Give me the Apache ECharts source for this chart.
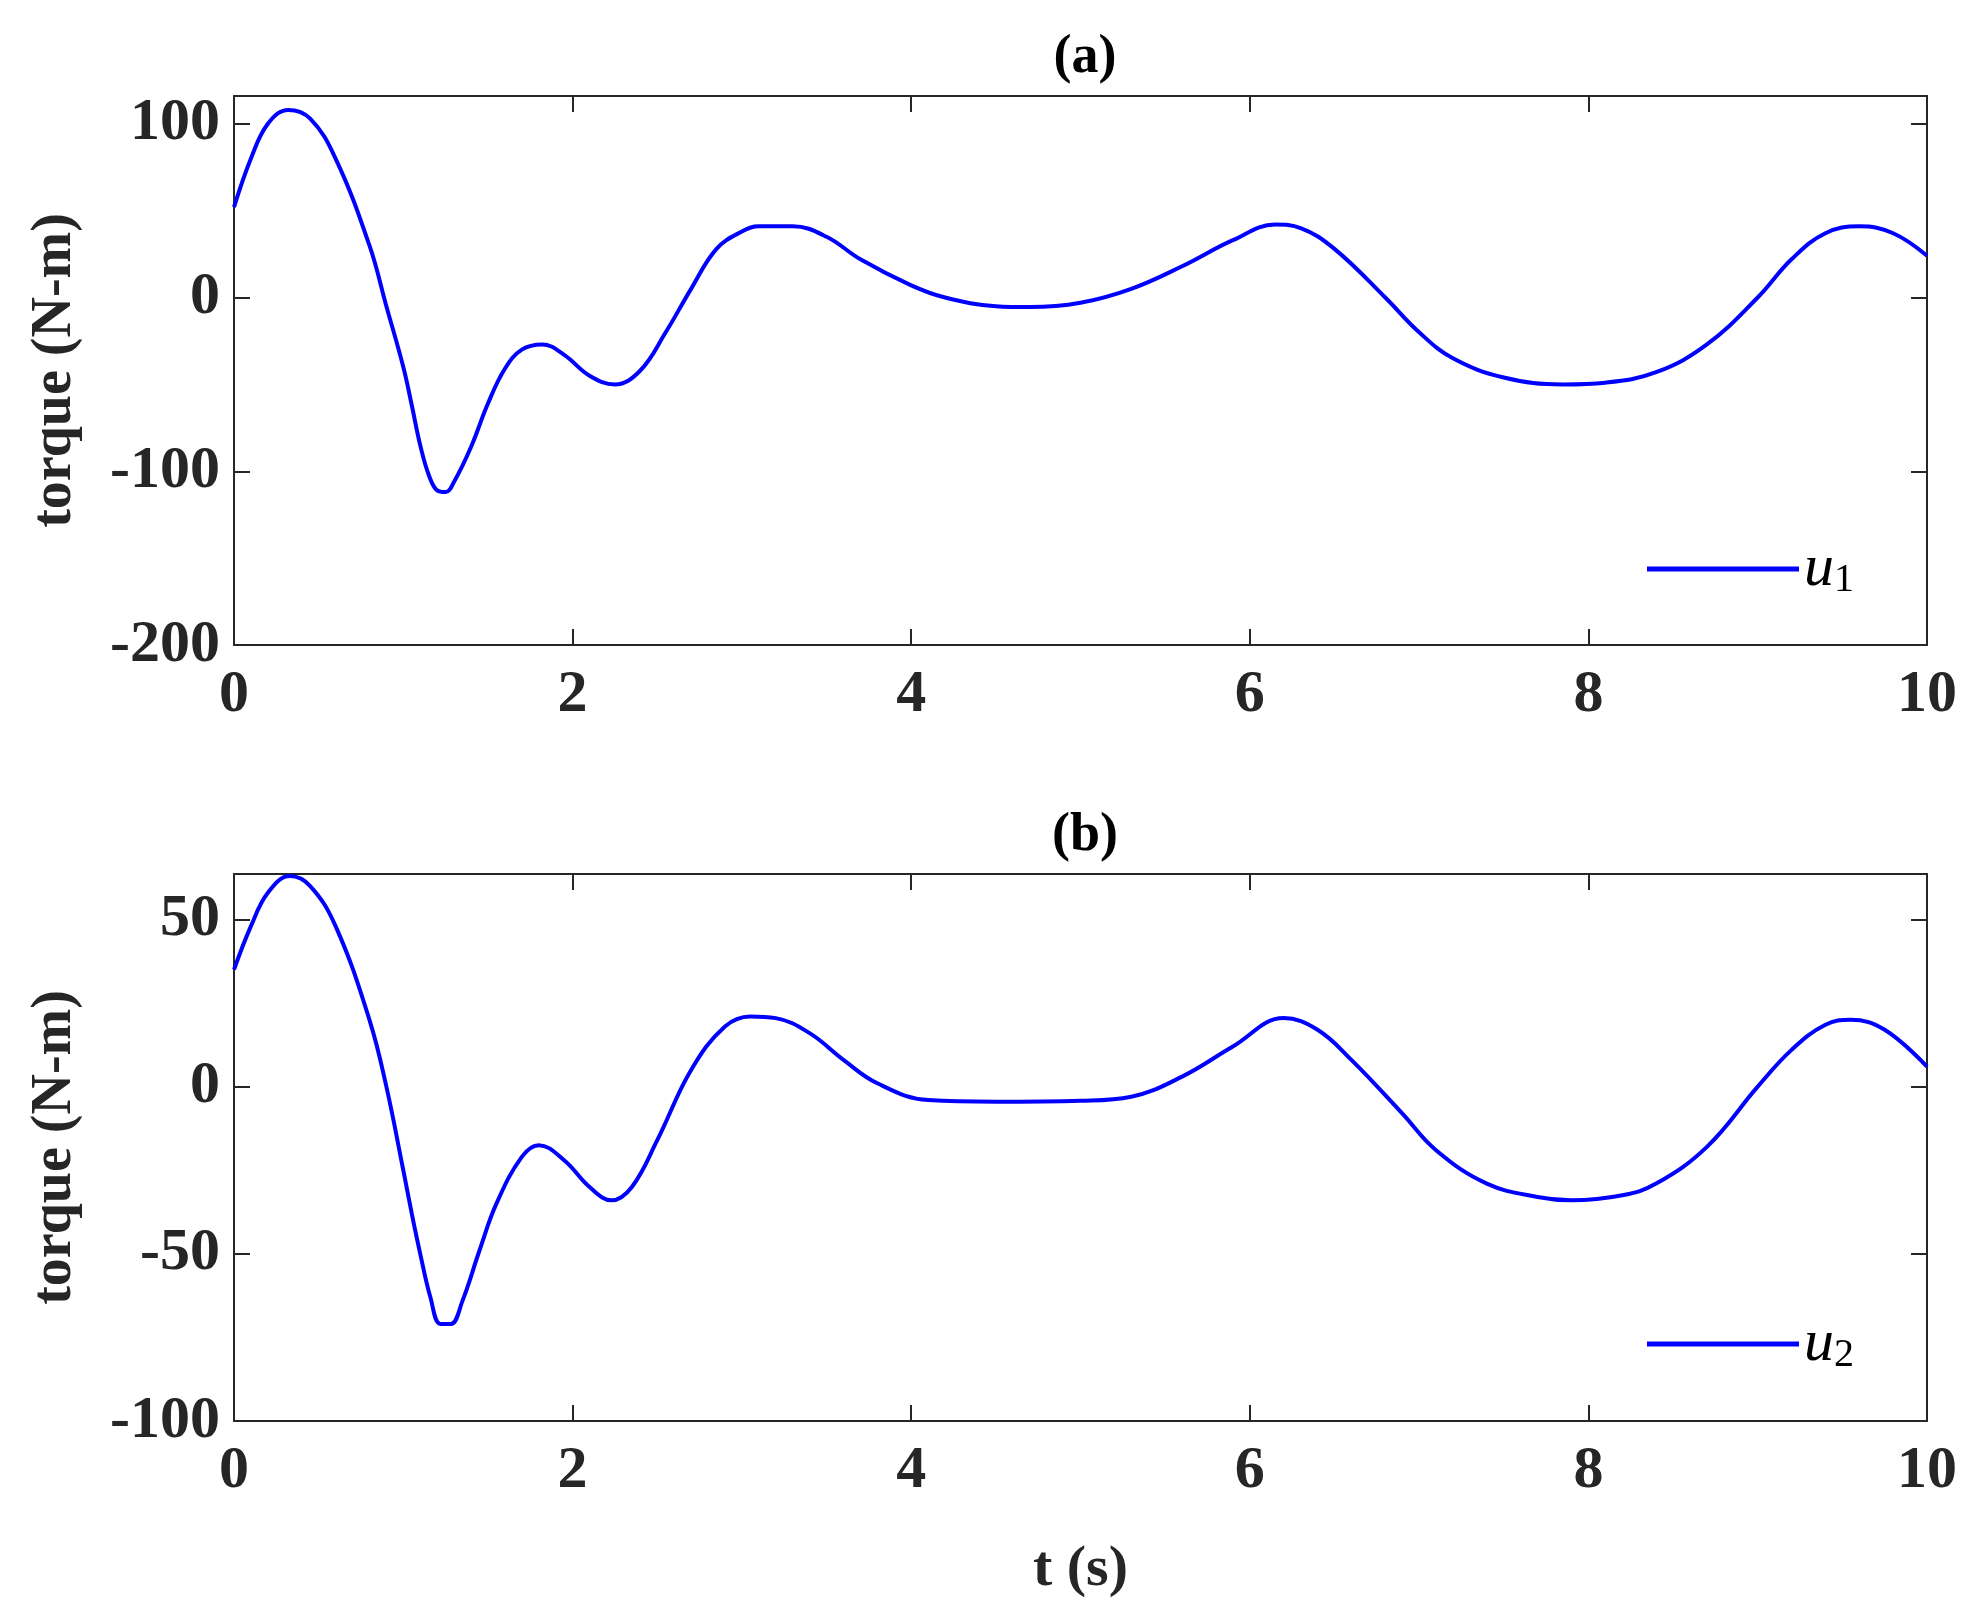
<!DOCTYPE html>
<html>
<head>
<meta charset="utf-8">
<script src="https://cdn.jsdelivr.net/npm/echarts@6/dist/echarts.min.js"></script>
<style>html,body{margin:0;padding:0;background:#fff}#chart{width:1971px;height:1606px}</style>
</head>
<body>
<div id="chart"></div>
<script>
// u1 data (t, torque)
var t1 = [0,0.1,0.2,0.32,0.45,0.6,0.8,0.9,1.0,1.05,1.1,1.15,1.2,1.25,1.3,1.4,1.5,1.6,1.7,1.82,1.95,2.1,2.25,2.4,2.55,2.7,2.85,3.0,3.1,3.3,3.5,3.7,4.0,4.2,4.5,4.7,5.0,5.3,5.6,5.9,6.15,6.3,6.5,6.8,7.0,7.2,7.5,7.85,8.1,8.4,8.7,9.0,9.2,9.4,9.6,9.8,10];
var u1 = [52,80,100,108,103,80,30,-5,-40,-62,-85,-102,-111,-112,-106,-86,-61,-41,-30,-27,-33,-45,-50,-42,-20,5,28,38,41,41,35,22,7,0,-5,-5.5,-3,5,18,33,42,40,28,0,-20,-35,-46,-50,-49,-43,-27,0,22,37,41,37,24];
// u2 data
var t2 = [0,0.1,0.2,0.33,0.45,0.6,0.8,0.9,1.0,1.05,1.1,1.16,1.22,1.28,1.35,1.45,1.55,1.7,1.8,1.95,2.1,2.23,2.35,2.5,2.7,2.9,3.05,3.2,3.4,3.6,3.8,4.1,4.5,5.0,5.3,5.6,5.9,6.2,6.4,6.6,6.9,7.1,7.4,7.7,7.9,8.2,8.4,8.7,9.0,9.2,9.4,9.55,9.75,10];
var u2 = [35,48,58,63,60,48,20,0,-25,-38,-50,-63,-71,-71,-64,-49,-35,-21,-17.5,-22,-30,-34,-30,-16,5,18,21,20.5,16,8,1,-4,-4.5,-4.2,-3,3,12,20.5,17,8,-8,-19,-29,-33,-34,-32.5,-29,-18,0,11,18.5,20,17,6];
var titles = ['(a)', '(b)'];

var FONT = 'Liberation Serif';
var chart = echarts.init(document.getElementById('chart'));

function pairs(t, v) {
    return t.map(function (x, i) { return [x, v[i]]; });
}

function xAx(grid, main) {
    return {
        type: 'value', gridIndex: grid, min: 0, max: 10, interval: 2,
        position: main ? 'bottom' : 'top',
        axisLine: {show: true, onZero: false, lineStyle: {color: '#262626', width: 2}},
        axisTick: {show: true, inside: true, length: 16, lineStyle: {color: '#262626', width: 2}},
        axisLabel: {show: main, color: '#262626', fontFamily: FONT, fontWeight: 'bold', fontSize: 60, margin: 20},
        splitLine: {show: false},
        name: (main && grid === 1) ? 't (s)' : '',
        nameLocation: 'middle', nameGap: 120,
        nameTextStyle: {color: '#262626', fontFamily: FONT, fontWeight: 'bold', fontSize: 58}
    };
}

function yAx(grid, main, min, max, interval) {
    return {
        type: 'value', gridIndex: grid, min: min, max: max, interval: interval,
        position: main ? 'left' : 'right',
        axisLine: {show: true, onZero: false, lineStyle: {color: '#262626', width: 2}},
        axisTick: {show: true, inside: true, length: 16, lineStyle: {color: '#262626', width: 2}},
        axisLabel: {show: main, color: '#262626', fontFamily: FONT, fontWeight: 'bold', fontSize: 60, margin: 14},
        splitLine: {show: false},
        name: main ? 'torque (N-m)' : '',
        nameLocation: 'middle', nameGap: 150, nameRotate: 90,
        nameTextStyle: {color: '#262626', fontFamily: FONT, fontWeight: 'bold', fontSize: 56}
    };
}

var legendRich = {
    i: {fontFamily: FONT, fontStyle: 'italic', fontSize: 60, color: '#000'},
    s: {fontFamily: FONT, fontSize: 40, color: '#000', padding: [22, 0, 0, 0]}
};

chart.setOption({
    backgroundColor: '#fff',
    animation: false,
    title: [
        {text: titles[0], left: 1080, top: 26, textAlign: 'center',
         textStyle: {fontFamily: FONT, fontWeight: 'bold', fontSize: 54, color: '#000'}},
        {text: titles[1], left: 1080, top: 804, textAlign: 'center',
         textStyle: {fontFamily: FONT, fontWeight: 'bold', fontSize: 54, color: '#000'}}
    ],
    grid: [
        {left: 234, right: 44, top: 96, height: 549},
        {left: 234, right: 44, top: 874, height: 547}
    ],
    xAxis: [xAx(0, true), xAx(0, false), xAx(1, true), xAx(1, false)],
    yAxis: [yAx(0, true, -200, 116, 100), yAx(0, false, -200, 116, 100),
            yAx(1, true, -100, 63.6, 50), yAx(1, false, -100, 63.6, 50)],
    legend: [
        {data: ['u1'], left: 1642, top: 534, itemWidth: 152, itemHeight: 5, itemGap: 14, icon: 'rect',
         formatter: function () { return '{i|u}{s|1}'; }, textStyle: {rich: legendRich}},
        {data: ['u2'], left: 1642, top: 1309, itemWidth: 152, itemHeight: 5, itemGap: 14, icon: 'rect',
         formatter: function () { return '{i|u}{s|2}'; }, textStyle: {rich: legendRich}}
    ],
    series: [
        {name: 'u1', type: 'line', xAxisIndex: 0, yAxisIndex: 0, data: pairs(t1, u1), smooth: 0.4,
         showSymbol: false, color: '#0000ff', lineStyle: {width: 4}},
        {name: 'u2', type: 'line', xAxisIndex: 2, yAxisIndex: 2, data: pairs(t2, u2), smooth: 0.4,
         showSymbol: false, color: '#0000ff', lineStyle: {width: 4}}
    ]
});
</script>
</body>
</html>
